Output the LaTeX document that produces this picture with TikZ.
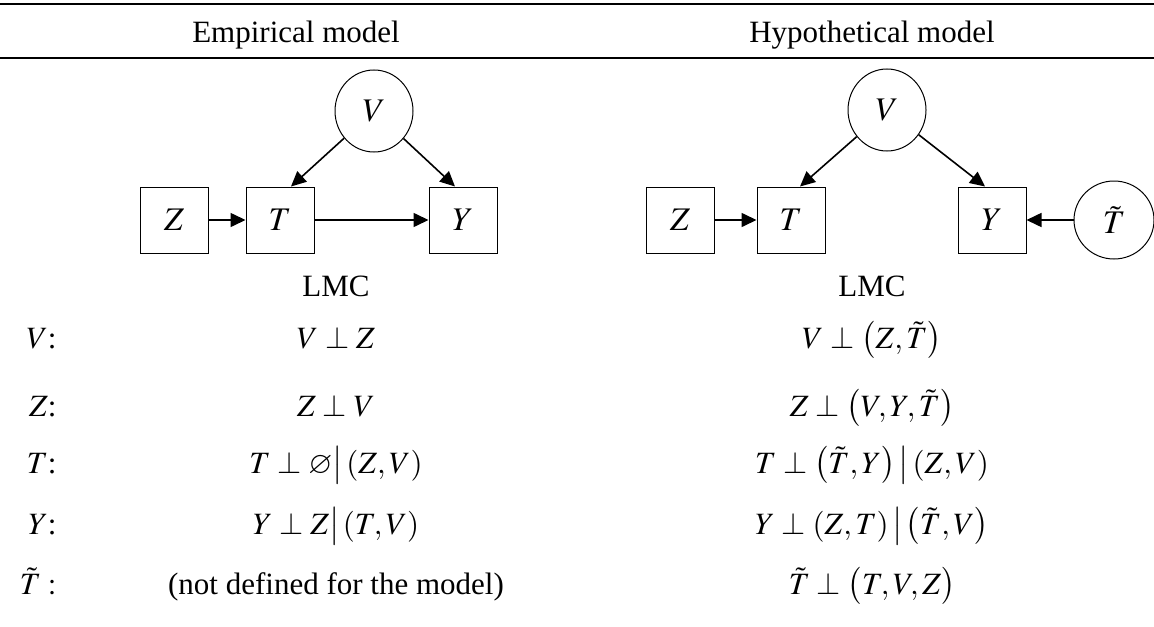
\documentclass[tikz,border=0pt]{standalone}
\usepackage{amsmath, amssymb}
\usepackage{mathptmx}
\usepackage{fontspec}
\setmainfont{Liberation Serif}
\usetikzlibrary{shapes.geometric, arrows.meta, positioning}

\begin{document}
\begin{tikzpicture}[x=0.5pt, y=-0.5pt, > = {Triangle[length=7.5pt, width=7pt]},
    txt/.style={font=\fontsize{15.5}{18}\selectfont, inner sep=0pt, anchor=base},
    var/.style={draw, line width=0.5pt, inner sep=0pt, font=\fontsize{16.5}{20}\selectfont},
    box/.style={var, rectangle, minimum width=34pt, minimum height=33pt},
    ring/.style={var, ellipse, minimum width=39pt, minimum height=41pt},
    link/.style={->, line width=0.8pt},
    tabrule/.style={line width=1.3pt}]
    \def\lc{336}\def\rc{872}
    \useasboundingbox (0,0) rectangle (1154,626);
    \draw[tabrule] (0,4) -- (1154,4);
    \draw[tabrule] (0,58) -- (1154,58);
    \node[txt] (headL) at (296,43) {Empirical model};
    \node[txt] (headR) at (872,43) {Hypothetical model};

    \node[ring] (V1) at (374,111) {$V$};
    \node[box] (Z1) at (174,220) {$Z$};
    \node[box, right=18.5pt of Z1] (T1) {$T$};
    \node[box, right=57pt of T1] (Y1) {$Y$};
    \draw[link] (Z1) -- (T1);
    \draw[link] (T1) -- (Y1);
    \draw[link] (V1) -- ([xshift=5.5pt]T1.north);
    \draw[link] (V1) -- ([xshift=-4pt]Y1.north);

    \node[ring] (V2) at (887,110) {$V$};
    \node[box] (Z2) at (680,220) {$Z$};
    \node[box, right=21pt of Z2] (T2) {$T$};
    \node[box, right=66pt of T2] (Y2) {$Y$};
    \node[ring, minimum width=40pt, minimum height=39pt, right=23.5pt of Y2] (Tt) {$\tilde{T}$};
    \draw[link] (Z2) -- (T2);
    \draw[link] (Tt) -- (Y2);
    \draw[link] (V2) -- ([xshift=4.5pt]T2.north);
    \draw[link] (V2) -- ([xshift=-3.5pt]Y2.north);

    \node[txt] (lmcL) at (\lc,296) {LMC};
    \node[txt] (lmcR) at (\rc,296) {LMC};

    \node[txt, anchor=base east] (rowV) at (57,348) {$V$:};
    \node[txt, anchor=base east] (rowZ) at (57,416) {$Z$:};
    \node[txt, anchor=base east] (rowT) at (57,473) {$T$:};
    \node[txt, anchor=base east] (rowY) at (57,534) {$Y$:};
    \node[txt, anchor=base east] (rowTt) at (57,594) {$\tilde{T}:$};

    \node[txt] (empV) at (\lc,348) {$V \perp Z$};
    \node[txt] (empZ) at (\lc,416) {$Z \perp V$};
    \node[txt] (empT) at (\lc,473) {$T \perp \varnothing\big|\left(Z,V\right)$};
    \node[txt] (empY) at (\lc,534) {$Y \perp Z\big|\left(T,V\right)$};
    \node[txt] (empTt) at (\lc,594) {(not defined for the model)};

    \node[txt] (hypV) at (\rc,348) {$V \perp \left(Z,\tilde{T}\right)$};
    \node[txt] (hypZ) at (\rc,416) {$Z \perp \left(V,Y,\tilde{T}\right)$};
    \node[txt] (hypT) at (\rc,473) {$T \perp \left(\tilde{T},Y\right)\big|\left(Z,V\right)$};
    \node[txt] (hypY) at (\rc,534) {$Y \perp \left(Z,T\right)\big|\left(\tilde{T},V\right)$};
    \node[txt] (hypTt) at (\rc,594) {$\tilde{T} \perp \bigl(T,V,Z\bigr)$};
\end{tikzpicture}
\end{document}
